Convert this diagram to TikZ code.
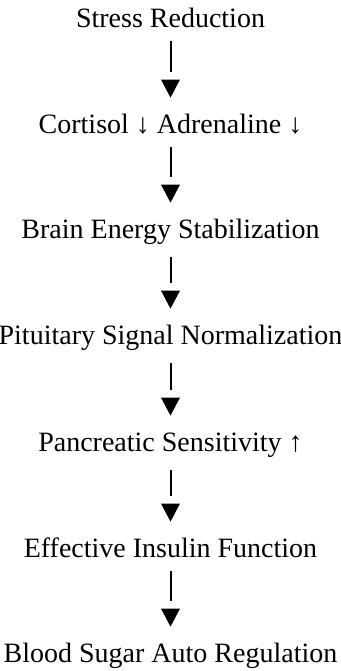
\documentclass[tikz,border=0pt]{standalone}
\usepackage{fontspec}
\setmainfont{Liberation Serif}
\usetikzlibrary{decorations.markings}

\begin{document}
\begin{tikzpicture}[x=0.5pt,y=-0.5pt,
    stepbox/.style={anchor=base,inner sep=0pt,text height=9.8pt,font=\fontsize{14}{17}\selectfont},
    flow/.style={line width=1pt,shorten <=6.5pt,shorten >=20.7pt,
        postaction={decorate},
        decoration={markings,mark=at position 1 with
            {\fill (-16.7pt,4.75pt) -- (-16.7pt,-4.75pt) -- (-7.7pt,0pt) -- cycle;}}}]
    \useasboundingbox (0,0) rectangle (341,671);
    % steps
    \node[stepbox] (stress)   at (170.5,27)  {Stress Reduction};
    \node[stepbox] (cortisol) at (170.5,133) {Cortisol ↓ Adrenaline ↓};
    \node[stepbox] (brain)    at (170.5,238) {Brain Energy Stabilization};
    \node[stepbox] (pituit)   at (170.5,344) {Pituitary Signal Normalization};
    \node[stepbox] (pancreas) at (170.5,451) {Pancreatic Sensitivity ↑};
    \node[stepbox] (insulin)  at (170.5,557) {Effective Insulin Function};
    \node[stepbox] (sugar)    at (170.5,662) {Blood Sugar Auto Regulation};
    % connectors
    \draw[flow] (stress)   -- (cortisol);
    \draw[flow] (cortisol) -- (brain);
    \draw[flow] (brain)    -- (pituit);
    \draw[flow] (pituit)   -- (pancreas);
    \draw[flow] (pancreas) -- (insulin);
    \draw[flow] (insulin)  -- (sugar);
\end{tikzpicture}
\end{document}
